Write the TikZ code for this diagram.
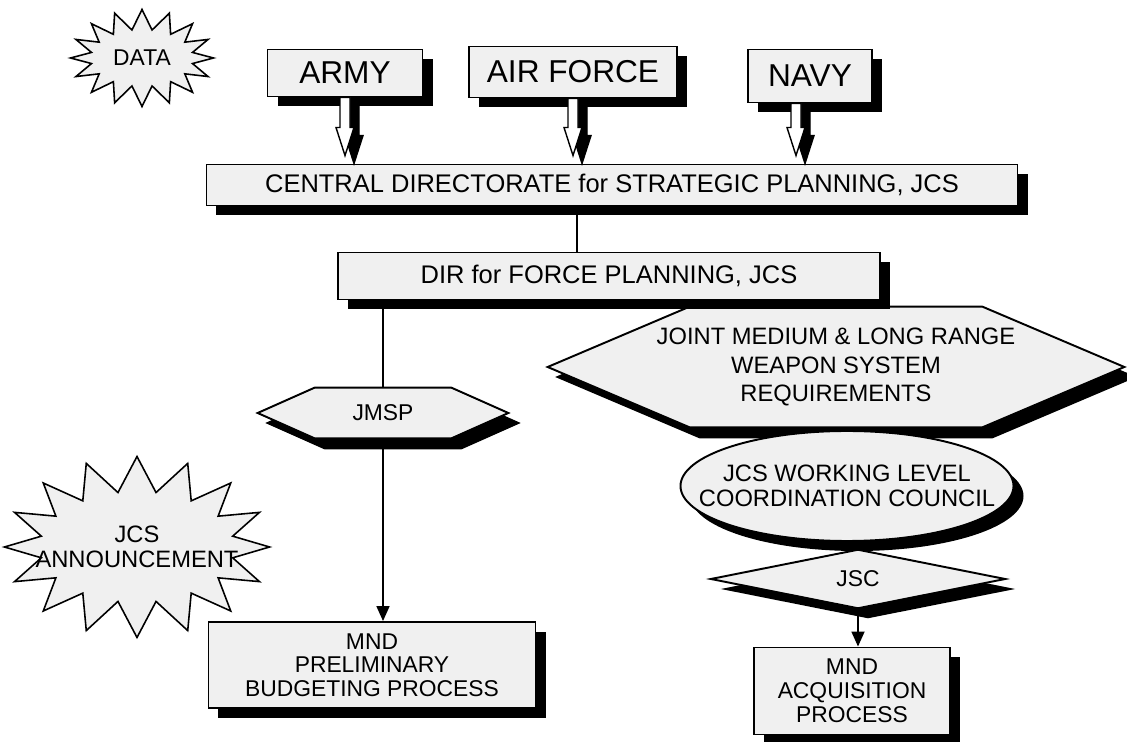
\documentclass[tikz,border=0pt]{standalone}
\usepackage{fontspec}
\setmainfont{Liberation Sans}
\usetikzlibrary{calc,arrows.meta,shadows,shapes.geometric,shapes.symbols}
\pgfdeclarelayer{background}
\pgfsetlayers{background,main}
\definecolor{speckle}{gray}{0.94}
\tikzset{
	shade box/.style={draw, line width=1.1pt, fill=speckle, inner sep=0pt,
		drop shadow={shadow xshift=2mm, shadow yshift=-2mm, fill=black, opacity=1}},
	unit box/.style={shade box, rectangle, align=center},
	hex body/.style={rectangle, inner sep=0pt, align=center},
	burst/.style={draw, line width=0.9pt, fill=speckle, shape=starburst, random starburst=0,
		starburst points=16, inner sep=0pt, align=center},
	link/.style={line width=1pt},
	flow/.style={line width=1pt, -{Triangle[width=2.6mm,length=3mm]}},
}
\newcommand{\blockarrow}[2]{%
	\foreach \dx/\dy/\col in {9/8/black,0/0/white}
		\filldraw[fill=\col, line width=0.8pt]
			($(#1)+(-5+\dx,0)$) -- ($(#2)+(-5+\dx,-28+\dy)$) -- ($(#2)+(-9+\dx,-28+\dy)$)
			-- ($(#2)+(\dx,\dy)$) -- ($(#2)+(9+\dx,-28+\dy)$) -- ($(#2)+(5+\dx,-28+\dy)$)
			-- ($(#1)+(5+\dx,0)$) -- cycle;
}
% hexagon round a hex body node, #2 = length of the points
\newcommand{\hexshape}[2]{%
	\begin{pgfonlayer}{background}
	\foreach \dx/\dy/\col in {10/10/black,0/0/speckle}
		\filldraw[fill=\col, line width=1.1pt]
			($(#1.north west)+(\dx,\dy)$) -- ($(#1.north east)+(\dx,\dy)$) -- ($(#1.east)+(#2+\dx,\dy)$)
			-- ($(#1.south east)+(\dx,\dy)$) -- ($(#1.south west)+(\dx,\dy)$) -- ($(#1.west)+(-#2+\dx,\dy)$) -- cycle;
	\end{pgfonlayer}
}

\begin{document}
\begin{tikzpicture}[x=0.2mm,y=-0.2mm]
		%%%%% START %%%%%
		\useasboundingbox (0,0) rectangle (1127,742);
		
		\node[burst, minimum width=28.6mm, minimum height=19.4mm, starburst point height=4mm,
			font=\fontsize{13}{14}\selectfont] (data) at (142,58) {DATA};
		
		\node[unit box, minimum width=31mm, minimum height=9.4mm, font=\fontsize{18}{20}\selectfont] (army) at (345,73) {ARMY};
		\node[unit box, minimum width=41.6mm, minimum height=10.2mm, font=\fontsize{18}{20}\selectfont] (airforce) at (573,72) {AIR FORCE};
		\node[unit box, minimum width=24.8mm, minimum height=10.6mm, font=\fontsize{18}{20}\selectfont] (navy) at (810,76) {NAVY};
		
		\node[unit box, minimum width=162.2mm, minimum height=8.2mm, font=\fontsize{14.5}{16}\selectfont] (central) at (612,185)
			{CENTRAL DIRECTORATE for STRATEGIC PLANNING, JCS};
		\node[unit box, minimum width=108.4mm, minimum height=9.4mm, font=\fontsize{14.5}{16}\selectfont] (dir) at (609,276)
			{DIR for FORCE PLANNING, JCS};
		
		% hollow arrows into the directorate
		\coordinate (armytip) at ($(army.south |- central.north)+(0,-8)$);
		\coordinate (airtip) at ($(airforce.south |- central.north)+(0,-8)$);
		\coordinate (navytip) at ($(navy.south |- central.north)+(-14,-8)$);
		\blockarrow{army.south}{armytip}
		\blockarrow{airforce.south}{airtip}
		\blockarrow{$(navy.south)+(-14,0)$}{navytip}
		
		\coordinate (dirtop) at ([xshift=-6.4mm]dir.north);
		\draw[link] (dirtop) -- (dirtop |- central.south);
		
		\node[hex body, minimum width=27.2mm, minimum height=10mm, font=\fontsize{13}{14}\selectfont] (jmsp) at (383,413) {JMSP};
		\hexshape{jmsp}{57}
		\draw[link] (jmsp.north) -- (jmsp.north |- dir.south);
		
		\node[hex body, inner xsep=-6.8mm, minimum width=58.4mm, minimum height=24mm,
			font=\fontsize{13.5}{16}\selectfont] (jmlr) at (836,367)
			{JOINT MEDIUM \& LONG RANGE\\WEAPON SYSTEM\\REQUIREMENTS};
		\hexshape{jmlr}{142}
		
		\node[shade box, shape=ellipse, inner xsep=-7mm, minimum width=66.6mm, minimum height=22mm,
			align=center, font=\fontsize{13.5}{14.5}\selectfont] (council) at (847,486)
			{JCS WORKING LEVEL\\COORDINATION COUNCIL};
		
		\node[shade box, shape=diamond, minimum width=59mm, minimum height=10.4mm,
			font=\fontsize{13}{14}\selectfont] (jsc) at (858,579) {JSC};
		
		\node[burst, inner xsep=-6.5mm, minimum width=52.2mm, minimum height=36.2mm, starburst point height=7mm,
			font=\fontsize{13.5}{14.5}\selectfont] (announce) at (137,547) {JCS\\ANNOUNCEMENT};
		
		\node[unit box, minimum width=65.4mm, minimum height=17.2mm, font=\fontsize{13}{13.5}\selectfont] (prelim) at (372,665)
			{MND\\PRELIMINARY\\BUDGETING PROCESS};
		\draw[flow] (jmsp.south) -- (jmsp.south |- prelim.north);
		
		\node[unit box, minimum width=39.2mm, minimum height=17.4mm, font=\fontsize{13}{13.8}\selectfont] (acq) at (852,691)
			{MND\\ACQUISITION\\PROCESS};
		\draw[flow] (jsc.south) -- (jsc.south |- acq.north);
		
		%%%%% END %%%%%
	\end{tikzpicture}
\end{document}
